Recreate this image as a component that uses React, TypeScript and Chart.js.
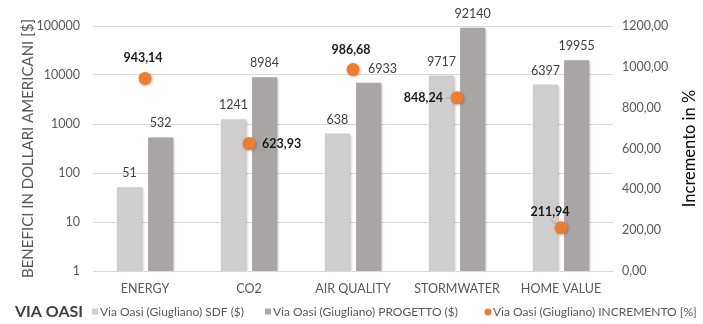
import React, { useEffect, useRef } from "react";
import { Chart, registerables } from "chart.js";

Chart.register(...registerables);

const categories = ["ENERGY", "CO2", "AIR QUALITY", "STORMWATER", "HOME VALUE"];
const sdfValues = [51, 1241, 638, 9717, 6397];
const progettoValues = [532, 8984, 6933, 92140, 19955];
const incrementoValues = [943.14, 623.93, 986.68, 848.24, 211.94];
const leftTicks = [1, 10, 100, 1000, 10000, 100000];
const rightTicks = [0, 200, 400, 600, 800, 1000, 1200];
const seriesLabels = [
  "Via Oasi (Giugliano) SDF ($)",
  "Via Oasi (Giugliano) PROGETTO ($)",
  "Via Oasi (Giugliano) INCREMENTO [%]",
];
const legendTitle = "VIA OASI";
const leftTitle = "BENEFICI IN DOLLARI AMERICANI [$]";
const rightTitle = "Incremento in %";
const pointLabelPlacement = ["top", "right", "top", "left", "topleft"];
// horizontal nudges for the PROGETTO bar labels (moved aside from markers)
const progettoLabelShift = [0, 0, 14, 0, 0];

const FONT = "Lato, 'Open Sans', sans-serif";
const SDF_COLOR = "#cfcdcd";
const PROG_COLOR = "#a9a5a5";
const ORANGE = "#ed7d31";
const TEXT_GRAY = "#595959";

const fmtComma = (v: number) => v.toFixed(2).replace(".", ",");

const shadowPlugin = {
  id: "shadowPlugin",
  beforeDatasetDraw(chart: any, args: any) {
    const ctx = chart.ctx;
    ctx.save();
    ctx.shadowColor = "rgba(0,0,0,0.28)";
    ctx.shadowBlur = args.index === 2 ? 3 : 2;
    ctx.shadowOffsetX = 1;
    ctx.shadowOffsetY = 1;
  },
  afterDatasetDraw(chart: any) {
    chart.ctx.restore();
  },
};

const labelsPlugin = {
  id: "labelsPlugin",
  afterDatasetsDraw(chart: any) {
    const ctx = chart.ctx;
    ctx.save();
    [0, 1].forEach((di) => {
      const meta = chart.getDatasetMeta(di);
      const vals = chart.data.datasets[di].data as number[];
      meta.data.forEach((el: any, i: number) => {
        ctx.font = `12.5px ${FONT}`;
        ctx.fillStyle = "#404040";
        ctx.textAlign = "center";
        ctx.textBaseline = "middle";
        const dx = di === 1 ? progettoLabelShift[i] : 0;
        ctx.fillText(String(vals[i]), el.x + dx, el.y - 14);
      });
    });
    const meta = chart.getDatasetMeta(2);
    meta.data.forEach((el: any, i: number) => {
      const txt = fmtComma(incrementoValues[i]);
      ctx.font = `bold 12.5px ${FONT}`;
      ctx.fillStyle = "#1a1a1a";
      ctx.textBaseline = "middle";
      const p = pointLabelPlacement[i];
      if (p === "top") {
        ctx.textAlign = "center";
        ctx.fillText(txt, el.x - 2, el.y - 20);
      } else if (p === "right") {
        ctx.textAlign = "left";
        ctx.fillText(txt, el.x + 13, el.y);
      } else if (p === "left") {
        ctx.textAlign = "right";
        ctx.fillText(txt, el.x - 14, el.y);
        ctx.strokeStyle = "#a6a6a6";
        ctx.lineWidth = 1;
        ctx.beginPath();
        ctx.moveTo(el.x - 11, el.y);
        ctx.lineTo(el.x - 4, el.y);
        ctx.stroke();
      } else {
        ctx.textAlign = "center";
        ctx.fillText(txt, el.x - 11, el.y - 16);
        ctx.strokeStyle = "#a6a6a6";
        ctx.lineWidth = 1;
        ctx.beginPath();
        ctx.moveTo(el.x - 10, el.y - 8);
        ctx.lineTo(el.x - 3, el.y - 2);
        ctx.stroke();
      }
    });
    ctx.restore();
  },
};

const decorPlugin = {
  id: "decorPlugin",
  afterDraw(chart: any) {
    const ctx = chart.ctx;
    const area = chart.chartArea;
    ctx.save();
    ctx.font = `16.5px ${FONT}`;
    ctx.fillStyle = "#000000";
    ctx.textAlign = "center";
    ctx.textBaseline = "middle";
    ctx.translate(690, (area.top + area.bottom) / 2);
    ctx.rotate(-Math.PI / 2);
    ctx.fillText(rightTitle, 0, 0);
    ctx.restore();

    ctx.save();
    const ly = 312;
    ctx.font = `bold 16px ${FONT}`;
    ctx.fillStyle = "#404040";
    ctx.textAlign = "left";
    ctx.textBaseline = "middle";
    ctx.fillText(legendTitle, 15, ly);
    const starts = [100, 273, 493];
    const colors = [SDF_COLOR, PROG_COLOR, ORANGE];
    ctx.font = `12px ${FONT}`;
    starts.forEach((sx, i) => {
      ctx.fillStyle = colors[i];
      if (i < 2) {
        ctx.fillRect(sx - 8, ly - 3.5, 6, 6);
      } else {
        ctx.beginPath();
        ctx.arc(sx - 5, ly, 3.5, 0, Math.PI * 2);
        ctx.fill();
      }
      ctx.fillStyle = TEXT_GRAY;
      ctx.fillText(seriesLabels[i], sx, ly);
    });
    ctx.restore();
  },
};

export default function App() {
  const ref = useRef<HTMLCanvasElement | null>(null);

  useEffect(() => {
    if (!ref.current) return;
    const chart = new Chart(ref.current, {
      type: "bar",
      data: {
        labels: categories,
        datasets: [
          {
            label: seriesLabels[0],
            data: sdfValues,
            backgroundColor: SDF_COLOR,
            yAxisID: "y",
            order: 2,
            categoryPercentage: 0.6,
            barPercentage: 0.8,
          } as any,
          {
            label: seriesLabels[1],
            data: progettoValues,
            backgroundColor: PROG_COLOR,
            yAxisID: "y",
            order: 2,
            categoryPercentage: 0.6,
            barPercentage: 0.8,
          } as any,
          {
            type: "line",
            label: seriesLabels[2],
            data: incrementoValues,
            yAxisID: "y1",
            showLine: false,
            pointRadius: 6.5,
            pointHoverRadius: 6.5,
            pointBackgroundColor: ORANGE,
            pointBorderColor: ORANGE,
            pointBorderWidth: 0,
            order: 0,
          } as any,
        ],
      },
      options: {
        responsive: false,
        animation: false,
        layout: { padding: { top: 26, left: 0, right: 0, bottom: 24 } },
        plugins: {
          legend: { display: false },
          tooltip: { enabled: false },
        },
        scales: {
          x: {
            grid: { display: false, drawTicks: false },
            border: { display: false },
            ticks: {
              color: TEXT_GRAY,
              font: { family: FONT, size: 12.5 },
              padding: 10,
              maxRotation: 0,
            },
            afterFit: (s: any) => {
              s.height = 29;
            },
          },
          y: {
            type: "logarithmic",
            position: "left",
            min: 1,
            max: 100000,
            afterBuildTicks: (s: any) => {
              s.ticks = leftTicks.map((v) => ({ value: v }));
            },
            grid: { color: "#d9d9d9", drawTicks: false },
            border: { display: false },
            ticks: {
              color: TEXT_GRAY,
              font: { family: FONT, size: 12.5 },
              padding: 13,
              callback: (v: any) => String(v),
            },
            title: {
              display: true,
              text: leftTitle,
              color: TEXT_GRAY,
              font: { family: FONT, size: 15 },
              padding: { top: 19, bottom: 0 },
            },
            afterFit: (s: any) => {
              s.width = 93;
            },
          },
          y1: {
            type: "linear",
            position: "right",
            min: 0,
            max: 1200,
            afterBuildTicks: (s: any) => {
              s.ticks = rightTicks.map((v) => ({ value: v }));
            },
            grid: { display: false, drawTicks: false },
            border: { display: false },
            ticks: {
              color: TEXT_GRAY,
              font: { family: FONT, size: 12.5 },
              padding: 9,
              callback: (v: any) => fmtComma(Number(v)),
            },
            afterFit: (s: any) => {
              s.width = 90;
            },
          },
        },
      },
      plugins: [shadowPlugin, labelsPlugin, decorPlugin],
    });
    return () => chart.destroy();
  }, []);

  return (
    <div style={{ position: "fixed", left: 0, top: 0, width: 703, height: 324, background: "#ffffff" }}>
      <canvas ref={ref} width={703} height={324} style={{ display: "block", width: 703, height: 324 }} />
    </div>
  );
}
